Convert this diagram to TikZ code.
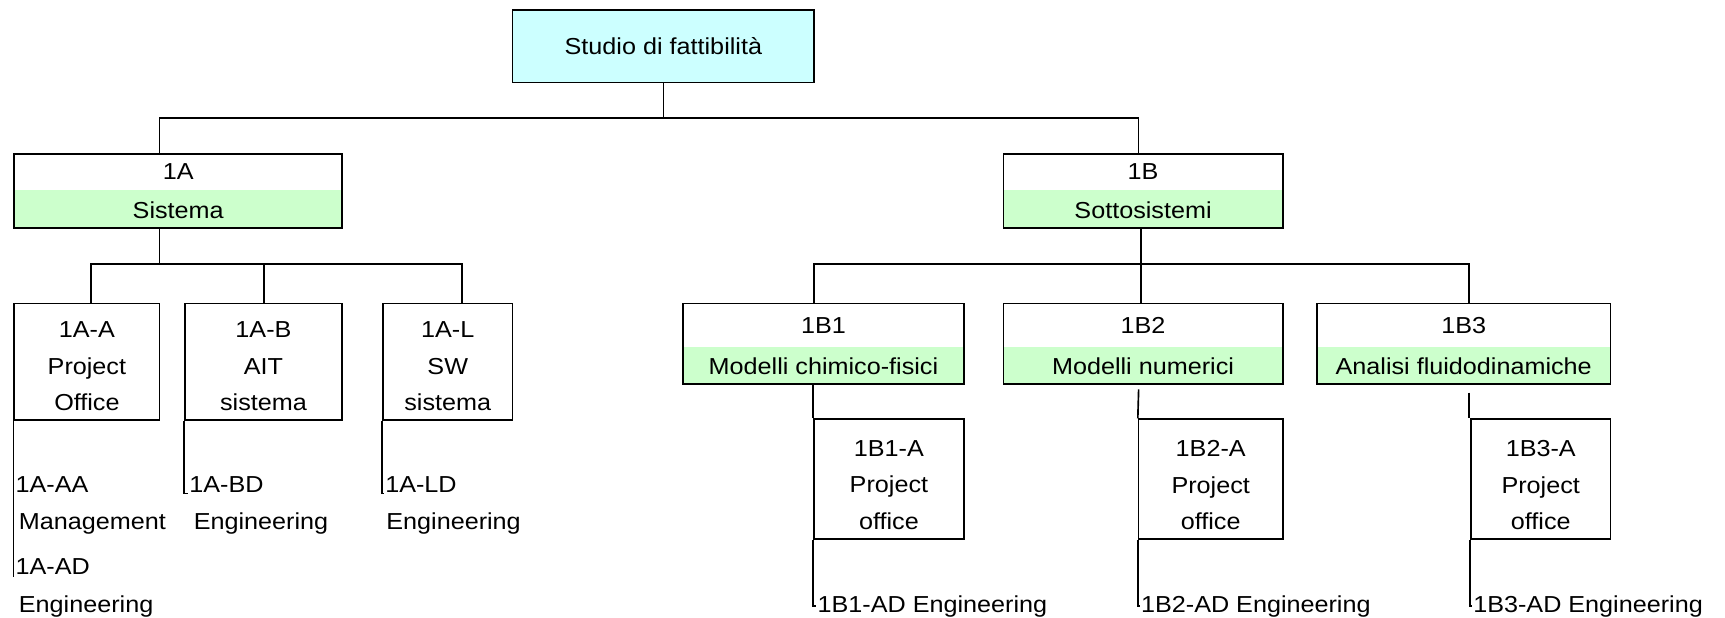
\documentclass[tikz,border=0pt]{standalone}
\usepackage{fontspec}
\setmainfont{Liberation Sans}[FakeStretch=1.09]
\newcommand\dfont{\fontsize{21}{33}\selectfont}
\definecolor{cyanfill}{HTML}{CCFFFF}
\definecolor{greenfill}{HTML}{CCFFCC}
\tikzset{
  base/.style={draw, line width=1.5pt, inner sep=0pt},
  topbox/.style={base, fill=cyanfill},
  twobox/.style={base, path picture={\fill[greenfill] ([yshift=34pt]path picture bounding box.south west) rectangle (path picture bounding box.south east);}},
  txt/.style={inner sep=0pt, font=\dfont, text height=15pt, text depth=0pt},
  mtxt/.style={inner sep=0pt, font=\dfont, align=center},
  lbl/.style={anchor=west, inner sep=1pt, font=\dfont},
  conn/.style={line width=1.5pt},
}
\begin{document}
\begin{tikzpicture}[x=1pt,y=-1pt]
\useasboundingbox (0,0) rectangle (1568,561);
% boxes
\node[topbox, minimum width=274pt, minimum height=66pt] (top) at (603,42) {};
\node[twobox, minimum width=298pt, minimum height=67pt] (A) at (162,173.5) {};
\node[twobox, minimum width=254pt, minimum height=67pt] (B) at (1039,173.5) {};
\node[base, minimum width=132pt, minimum height=106pt] (AA) at (79,329) {};
\node[base, minimum width=143pt, minimum height=106pt] (AB) at (239.5,329) {};
\node[base, minimum width=118pt, minimum height=106pt] (AL) at (407,329) {};
\node[twobox, minimum width=255pt, minimum height=73pt] (B1) at (748.5,312.5) {};
\node[twobox, minimum width=254pt, minimum height=73pt] (B2) at (1039,312.5) {};
\node[twobox, minimum width=267pt, minimum height=73pt] (B3) at (1330.5,312.5) {};
\node[base, minimum width=136pt, minimum height=109pt] (B1A) at (808,435.5) {};
\node[base, minimum width=131pt, minimum height=109pt] (B2A) at (1100.5,435.5) {};
\node[base, minimum width=127pt, minimum height=109pt] (B3A) at (1400.5,435.5) {};
% box texts
\node[txt] (tTop) at (top.center) {Studio di fattibilità};
\node[txt] (tA1) at ([yshift=-16.5pt]A.north) {1A};
\node[txt] (tA2) at ([yshift=17pt]A.south) {Sistema};
\node[txt] (tB1) at ([yshift=-16.5pt]B.north) {1B};
\node[txt] (tB2) at ([yshift=17pt]B.south) {Sottosistemi};
\node[txt] (tB11) at ([yshift=-20pt]B1.north) {1B1};
\node[txt] (tB12) at ([yshift=16.5pt]B1.south) {Modelli chimico-fisici};
\node[txt] (tB21) at ([yshift=-20pt]B2.north) {1B2};
\node[txt] (tB22) at ([yshift=16.5pt]B2.south) {Modelli numerici};
\node[txt] (tB31) at ([yshift=-20pt]B3.north) {1B3};
\node[txt] (tB32) at ([yshift=16.5pt]B3.south) {Analisi fluidodinamiche};
\node[mtxt] (tAA) at ([yshift=-4pt]AA.center) {1A-A\\Project\\Office};
\node[mtxt] (tAB) at ([yshift=-4pt]AB.center) {1A-B\\AIT\\sistema};
\node[mtxt] (tAL) at ([yshift=-4pt]AL.center) {1A-L\\SW\\sistema};
\node[mtxt] (tB1A) at ([yshift=-5.5pt]B1A.center) {1B1-A\\Project\\office};
\node[mtxt] (tB2A) at ([yshift=-5.5pt]B2A.center) {1B2-A\\Project\\office};
\node[mtxt] (tB3A) at ([yshift=-5.5pt]B3A.center) {1B3-A\\Project\\office};
% labels
\node[lbl] (lAA) at (13,440) {1A-AA};
\node[lbl] (lAAm) at (16,476) {Management};
\node[lbl] (lAD) at (13,515) {1A-AD};
\node[lbl] (lADm) at (16,551) {Engineering};
\node[lbl] (lBD) at (171,440) {1A-BD};
\node[lbl] (lBDm) at (175,476) {Engineering};
\node[lbl] (lLD) at (349,440) {1A-LD};
\node[lbl] (lLDm) at (350,476) {Engineering};
\node[lbl] (lB1) at (742,551) {1B1-AD Engineering};
\node[lbl] (lB2) at (1036,551) {1B2-AD Engineering};
\node[lbl] (lB3) at (1338,551) {1B3-AD Engineering};
% bus coordinates
\coordinate (t0) at (602,107);
\coordinate (xA1) at (145,107);
\coordinate (xB1) at (1035,107);
\coordinate (a0) at (145,240);
\coordinate (a1) at (83,240);
\coordinate (a2) at (240,240);
\coordinate (a3) at (420,240);
\coordinate (b0) at (1037,240);
\coordinate (b1) at (740,240);
\coordinate (b3) at (1335,240);
\coordinate (g2) at (1035,354);
\coordinate (g3) at (1335,357);
% connectors
\draw[conn] (top.south) -- (top.south |- t0);
\draw[conn] (xA1 |- A.north) -- (xA1) -- (xB1) -- (xB1 |- B.north);
\draw[conn] (a0 |- A.south) -- (a0);
\draw[conn] (a1 |- AA.north) -- (a1) -- (a3) -- (a3 |- AL.north);
\draw[conn] (a2) -- (a2 |- AB.north);
\draw[conn] (b0 |- B.south) -- (b0) -- (b0 |- B2.north);
\draw[conn] (b1 |- B1.north) -- (b1) -- (b3) -- (b3 |- B3.north);
\draw[conn] (B1A.north west |- B1.south) -- (B1A.north west);
\draw[conn] (g2) -- (B2A.north west);
\draw[conn] (g3) -- (g3 |- B3A.north);
\draw[conn] (AA.south west) |- (lAA.west);
\draw[conn] (AA.south west) |- (lAD.south west);
\draw[conn] (AB.south west) |- (lBD.south west);
\draw[conn] (AL.south west) |- (lLD.south west);
\draw[conn] (B1A.south west) |- (lB1.west);
\draw[conn] (B2A.south west) |- (lB2.west);
\draw[conn] (B3A.south west) |- (lB3.west);
\end{tikzpicture}
\end{document}
